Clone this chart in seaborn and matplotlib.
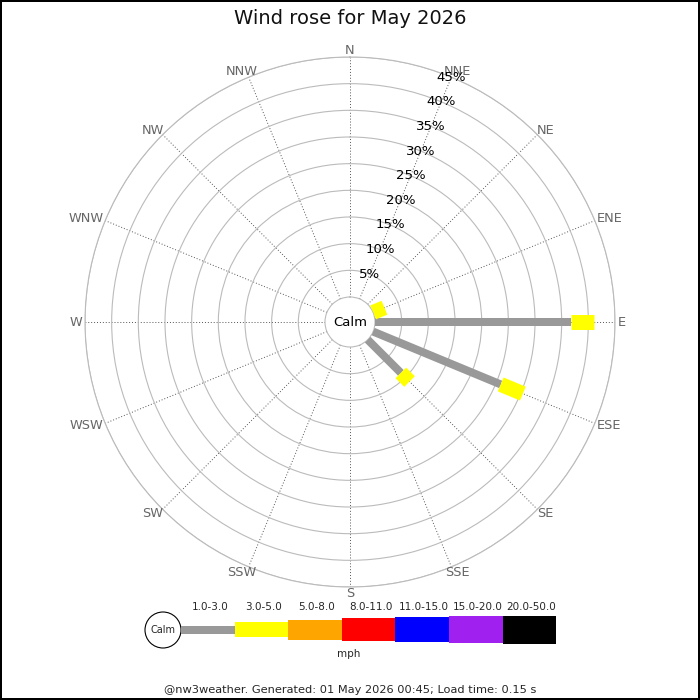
import numpy as np
import pandas as pd
import matplotlib
matplotlib.use("Agg")
import matplotlib.pyplot as plt
import seaborn as sns
from matplotlib.patches import Circle

sns.set_style("white")
plt.rcParams['font.family'] = ['DejaVu Sans']

# data (% of time)
directions = ['N', 'NNE', 'NE', 'ENE', 'E', 'ESE', 'SE', 'SSE',
              'S', 'SSW', 'SW', 'WSW', 'W', 'WNW', 'NW', 'NNW']
band_labels = ['1.0-3.0', '3.0-5.0', '5.0-8.0', '8.0-11.0',
               '11.0-15.0', '15.0-20.0', '20.0-50.0']
band_colors = ['#999999', '#ffff00', '#ffa500', '#ff0000',
               '#0000ff', '#a020f0', '#000000']
band_px = [8, 15, 20, 23, 25, 27, 28]

freq_1_3 = [0, 0, 0, 0, 36.7, 25.9, 8.8, 0, 0, 0, 0, 0, 0, 0, 0, 0]
freq_3_5 = [0, 0, 0, 2.3, 4.4, 4.5, 2.3, 0, 0, 0, 0, 0, 0, 0, 0, 0]
freq_5_8 = [0] * 16
freq_8_11 = [0] * 16
freq_11_15 = [0] * 16
freq_15_20 = [0] * 16
freq_20_50 = [0] * 16
bands = [freq_1_3, freq_3_5, freq_5_8, freq_8_11, freq_11_15, freq_15_20, freq_20_50]

pct_rings = [5, 10, 15, 20, 25, 30, 35, 40, 45]
calm_r = 4.69   # hole in the middle, in % units

angles = np.deg2rad(np.arange(16) * 22.5)

# long table of segments: one start and one end row per (direction, band)
rows = []
seg = 0
for i, th in enumerate(angles):
    cum = 0.0
    for b, lab in enumerate(band_labels):
        v = bands[b][i]
        if v > 0:
            rows.append({'seg': seg, 'theta': th, 'r': cum, 'band': lab})
            rows.append({'seg': seg, 'theta': th, 'r': cum + v, 'band': lab})
            seg += 1
        cum += v
df = pd.DataFrame(rows)

fig = plt.figure(figsize=(7, 7), dpi=100)
fig.patch.set_edgecolor('black')
fig.patch.set_linewidth(1.5)

R = 265 / 700
ax = fig.add_axes([0.5 - R, 1 - 322 / 700 - R, 2 * R, 2 * R], projection='polar')
ax.set_theta_zero_location('N')
ax.set_theta_direction(-1)

sns.lineplot(data=df, x='theta', y='r', hue='band', size='band',
             hue_order=band_labels, size_order=band_labels,
             palette=dict(zip(band_labels, band_colors)),
             sizes=dict(zip(band_labels, [p * 0.72 for p in band_px])),
             units='seg', estimator=None, sort=False, legend=False,
             solid_capstyle='butt', ax=ax, zorder=5)

ax.set_rorigin(-calm_r)
ax.set_ylim(0, 45)
ax.set_xlabel('')
ax.set_ylabel('')
ax.set_thetagrids(np.arange(0, 360, 22.5), labels=[])
ax.set_rgrids(pct_rings, labels=[])
ax.xaxis.grid(True, linestyle=(0, (1, 2)), color='#555555', lw=0.7)
ax.yaxis.grid(True, linestyle='-', color='#bbbbbb', lw=0.8)
for name, sp in ax.spines.items():
    sp.set_color('#bbbbbb')
    sp.set_linewidth(0.8)

for p in pct_rings:
    ax.text(np.deg2rad(22.5), p, f'{p}%', ha='center', va='center',
            fontsize=9.5, color='black', zorder=6)

ax.text(0.5, 0.5, 'Calm', transform=ax.transAxes, ha='center', va='center',
        fontsize=9.5, color='black', zorder=7)

# compass labels, pushed out so they sit just outside the outer ring
anns = []
for lab, th in zip(directions, angles):
    a = ax.annotate(lab, xy=(th, 45), xytext=(0, 0), textcoords='offset pixels',
                    ha='center', va='center', fontsize=9.3, color='#666666',
                    annotation_clip=False)
    anns.append((a, th))
fig.canvas.draw()
for a, th in anns:
    bb = a.get_window_extent()
    a.xyann = ((bb.width / 2 + 3) * np.sin(th), (bb.height / 2) * np.cos(th))

fig.text(0.5, 1 - 18 / 700, 'Wind rose for May 2026', ha='center', va='center',
         fontsize=14, color='#111111')

# speed key along the bottom
kx = fig.add_axes([0, 0, 1, 1], zorder=-1)
kx.set_xlim(0, 700)
kx.set_ylim(700, 0)
kx.axis('off')
kx.add_patch(Circle((163, 630), 18, facecolor='white', edgecolor='black', lw=0.8))
kx.text(163, 630, 'Calm', ha='center', va='center', fontsize=7)
key_left, key_w, key_y = 181, 53.6, 629.5
for i, (lab, col, h) in enumerate(zip(band_labels, band_colors, band_px)):
    x0 = key_left + i * key_w
    kx.bar(x0, h, width=key_w, bottom=key_y - h / 2, align='edge', color=col, lw=0)
    kx.text(x0 + key_w / 2 + 2, 607, lab, ha='center', va='center', fontsize=7.5)
kx.text(349, 654, 'mph', ha='center', va='center', fontsize=7.5)
kx.text(350, 690, '@nw3weather. Generated: 01 May 2026 00:45; Load time: 0.15 s',
        ha='center', va='center', fontsize=8.2)

fig.savefig('out.png', dpi=100)
